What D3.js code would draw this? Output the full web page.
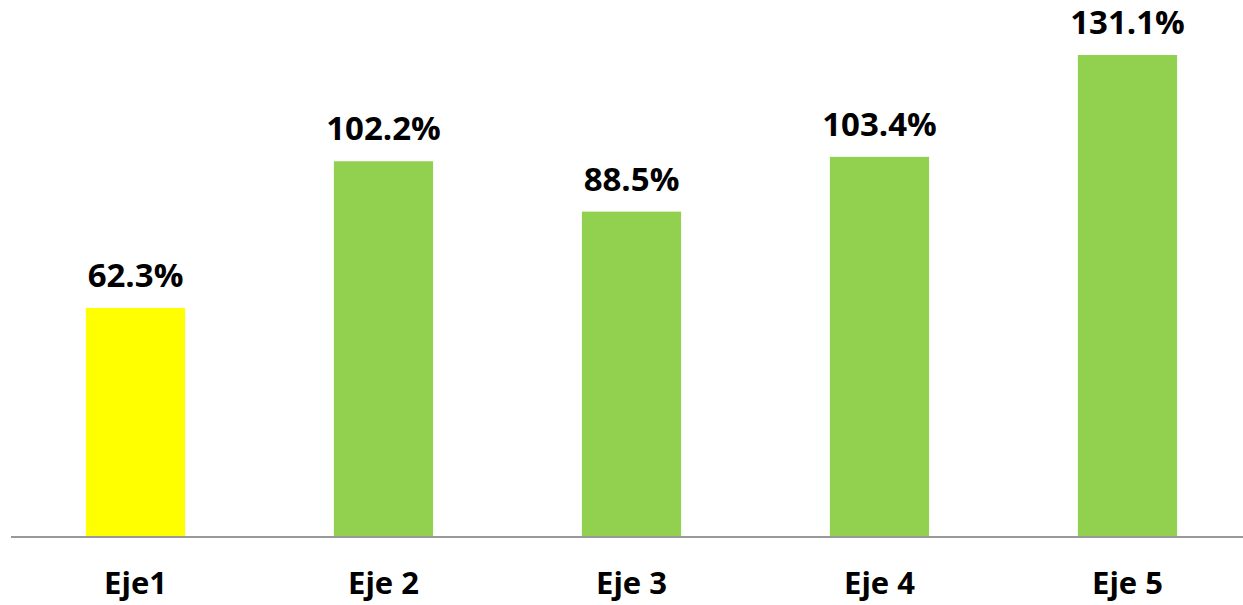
<!DOCTYPE html>
<html>
<head>
<meta charset="utf-8">
<script src="https://cdn.jsdelivr.net/npm/d3@7"></script>
<style>
  body { margin: 0; background: #fff; }
  text { font-family: "Liberation Sans Narrow", "Open Sans", sans-serif; font-weight: bold; fill: #000; }
</style>
</head>
<body>
<svg id="chart"></svg>
<script>
const categories = ["Eje1", "Eje 2", "Eje 3", "Eje 4", "Eje 5"];
const values = [62.3, 102.2, 88.5, 103.4, 131.1];
const barColors = ["#FFFF00", "#92D050", "#92D050", "#92D050", "#92D050"];

const width = 1243, height = 605;
const baseline = 537;

let svg = d3.select("#chart")
    .attr("width", width)
    .attr("height", height);

// band scale: bars 99px wide, 248px apart
let x = d3.scaleBand()
    .domain(categories)
    .range([11.5, 1251.5])
    .paddingInner(0.6)
    .paddingOuter(0.3);

let y = d3.scaleLinear()
    .domain([0, 131.1])
    .range([baseline, 55]);

svg.selectAll(".bar")
  .data(values)
  .enter()
  .append("rect")
    .classed("bar", true)
    .attr("x", (d, i) => x(categories[i]))
    .attr("y", d => y(d))
    .attr("width", x.bandwidth())
    .attr("height", d => baseline - y(d))
    .attr("fill", (d, i) => barColors[i]);

// value labels above bars
svg.selectAll(".val")
  .data(values)
  .enter()
  .append("text")
    .classed("val", true)
    .attr("x", (d, i) => x(categories[i]) + x.bandwidth() / 2)
    .attr("y", d => y(d) - 21)
    .attr("font-size", "33px")
    .style("text-anchor", "middle")
    .text(d => d.toFixed(1) + "%");

// axis line
svg.append("line")
    .attr("x1", 11)
    .attr("x2", width)
    .attr("y1", baseline)
    .attr("y2", baseline)
    .attr("stroke", "#999")
    .attr("stroke-width", 2);

// category labels
svg.selectAll(".cat")
  .data(categories)
  .enter()
  .append("text")
    .classed("cat", true)
    .attr("x", d => x(d) + x.bandwidth() / 2)
    .attr("y", 594)
    .attr("font-size", "31px")
    .style("text-anchor", "middle")
    .text(d => d);
</script>
</body>
</html>
